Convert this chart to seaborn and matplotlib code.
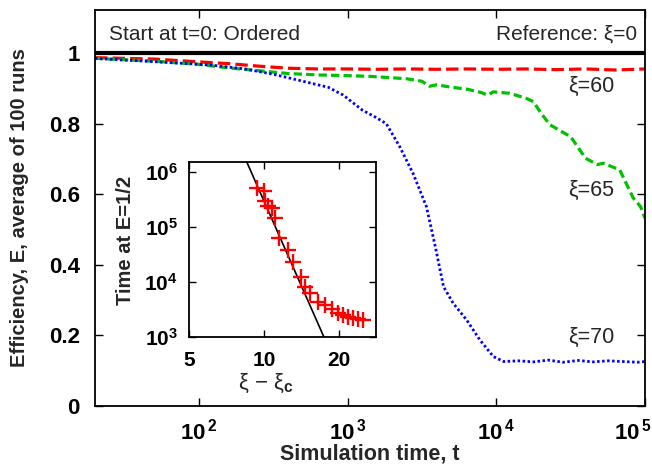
import numpy as np
import pandas as pd
import matplotlib
matplotlib.use("Agg")
import matplotlib.pyplot as plt
import matplotlib.transforms as mtransforms
import seaborn as sns

# Efficiency E(t), averaged over 100 runs, for three values of xi
t_xi60 = [20, 32, 50, 100, 158, 251, 398, 631, 1000, 1585, 2512, 3981,
          6310, 10000, 15849, 25119, 39811, 63096, 100000]
e_xi60 = [0.987, 0.985, 0.983, 0.975, 0.970, 0.963, 0.957, 0.955, 0.955,
          0.954, 0.955, 0.954, 0.955, 0.954, 0.955, 0.953, 0.955, 0.952, 0.955]

t_xi65 = [20, 32, 50, 79, 100, 158, 251, 398, 631, 1000, 1413, 1995, 2512,
          3162, 3548, 3981, 5012, 6310, 7943, 8710, 9550, 12303, 15849,
          17783, 19953, 22909, 28184, 31623, 39811, 47863, 52481, 67608,
          83176, 93325, 100000]
e_xi65 = [0.985, 0.981, 0.977, 0.971, 0.968, 0.958, 0.950, 0.942, 0.938,
          0.936, 0.934, 0.930, 0.927, 0.920, 0.906, 0.910, 0.903, 0.898,
          0.888, 0.881, 0.890, 0.886, 0.872, 0.862, 0.830, 0.797, 0.775,
          0.763, 0.702, 0.684, 0.688, 0.669, 0.590, 0.565, 0.532]

t_xi70 = [20, 32, 44, 63, 93, 126, 204, 316, 447, 631, 741, 933, 1259,
          1514, 1820, 2239, 2754, 3388, 3890, 4416, 5129, 6310, 7762,
          9550, 11220, 14125, 17783, 22387, 28184, 35481, 44668, 56234,
          70795, 89125, 100000]
e_xi70 = [0.985, 0.980, 0.977, 0.973, 0.969, 0.965, 0.955, 0.940, 0.925,
          0.910, 0.903, 0.881, 0.838, 0.820, 0.800, 0.735, 0.659, 0.565,
          0.451, 0.338, 0.291, 0.244, 0.187, 0.140, 0.126, 0.128, 0.125,
          0.130, 0.124, 0.129, 0.125, 0.128, 0.126, 0.124, 0.126]

# Inset: time at which E falls to 1/2 versus distance from critical xi
dxi = [9.35, 9.97, 10.09, 10.40, 10.74, 11.07, 11.52, 12.52, 13.11, 14.04,
       14.61, 15.30, 16.52, 17.57, 18.70, 19.88, 20.81, 21.80, 22.83,
       23.90, 25.04]
t_half = [5.06e5, 4.38e5, 2.88e5, 2.34e5, 2.19e5, 1.44e5, 6.38e4, 3.82e4,
          2.28e4, 1.25e4, 8.2e3, 6.24e3, 4.38e3, 3.82e3, 3.19e3, 2.77e3,
          2.51e3, 2.34e3, 2.19e3, 2.10e3, 2.04e3]

# Power-law fit  T = 10**fit_log_amp * (xi - xi_c)**(-fit_exponent)
fit_log_amp = 15.72
fit_exponent = 10.25
fit_range = [8.0, 18.5]

main_xticks = [1e2, 1e3, 1e4, 1e5]
main_xticklabels = [r"$\mathbf{10^{\,2}}$", r"$\mathbf{10^{\,3}}$",
                    r"$\mathbf{10^{\,4}}$", r"$\mathbf{10^{\,5}}$"]
main_yticks = [0, 0.2, 0.4, 0.6, 0.8, 1.0]
main_yticklabels = ["0", "0.2", "0.4", "0.6", "0.8", "1"]
inset_xticks = [5, 10, 20]
inset_xticklabels = ["5", "10", "20"]
inset_yticks = [1e3, 1e4, 1e5, 1e6]
inset_yticklabels = [r"$\mathbf{10^{3}}$", r"$\mathbf{10^{4}}$",
                     r"$\mathbf{10^{5}}$", r"$\mathbf{10^{6}}$"]

sns.set_theme(style="ticks")
plt.rcParams["font.family"] = ["Liberation Sans", "DejaVu Sans"]
plt.rcParams["mathtext.fontset"] = "custom"
plt.rcParams["mathtext.rm"] = "Liberation Sans"
plt.rcParams["mathtext.it"] = "Liberation Sans:italic"
plt.rcParams["mathtext.bf"] = "Liberation Sans:bold"
plt.rcParams["axes.linewidth"] = 1.3
plt.rcParams["axes.edgecolor"] = "black"

fig = plt.figure(figsize=(6.52, 4.70), dpi=100)
ax = fig.add_axes([95 / 652, 64 / 470, 550 / 652, 396 / 470])

red, green, blue = "#ff0000", "#00c000", "#0000ff"

df60 = pd.DataFrame({"t": t_xi60, "E": e_xi60})
df65 = pd.DataFrame({"t": t_xi65, "E": e_xi65})
df70 = pd.DataFrame({"t": t_xi70, "E": e_xi70})

ax.axhline(1.0, color="black", lw=3, zorder=1)
sns.lineplot(data=df60, x="t", y="E", ax=ax, color=red, lw=2.3,
             linestyle=(0, (3.9, 1.6)), estimator=None, sort=False)
sns.lineplot(data=df65, x="t", y="E", ax=ax, color=green, lw=2.3,
             linestyle=(0, (2.6, 1.3)), estimator=None, sort=False)
sns.lineplot(data=df70, x="t", y="E", ax=ax, color=blue, lw=2.0,
             linestyle=(0, (0.9, 0.9)), estimator=None, sort=False)

ax.set_xscale("log")
ax.set_xlim(20, 1e5)
ax.set_ylim(0, 1.122)
ax.set_xticks(main_xticks)
ax.set_xticklabels(main_xticklabels)
ax.xaxis.set_minor_locator(matplotlib.ticker.NullLocator())
ax.set_yticks(main_yticks)
ax.set_yticklabels(main_yticklabels)
ax.tick_params(axis="both", direction="in", length=6, width=1.0,
               top=True, right=True, colors="black")
ax.tick_params(axis="x", pad=9, labelsize=16)
ax.tick_params(axis="y", pad=11, labelsize=16)
for lab in ax.get_yticklabels():
    lab.set_fontweight("bold")
# keep the last decade label inside the figure
last = ax.get_xticklabels()[-1]
last.set_transform(last.get_transform() +
                   mtransforms.ScaledTranslation(-12 / 100, 0,
                                                 fig.dpi_scale_trans))

ax.set_xlabel("Simulation time, t", fontsize=15.5, fontweight="bold")
ax.set_ylabel("Efficiency, E, average of 100 runs", fontsize=14.5,
              fontweight="bold")
ax.xaxis.set_label_coords(0.5, -0.095)
ax.yaxis.set_label_coords(-0.12, 0.5)

ax.text(0.025, 0.939, "Start at t=0: Ordered", transform=ax.transAxes,
        fontsize=15, ha="left", va="center")
ax.text(0.985, 0.939, "Reference: ξ=0", transform=ax.transAxes,
        fontsize=15, ha="right", va="center")
ax.text(0.902, 0.808, "ξ=60", transform=ax.transAxes, fontsize=15.5,
        ha="center", va="center")
ax.text(0.902, 0.545, "ξ=65", transform=ax.transAxes, fontsize=15.5,
        ha="center", va="center")
ax.text(0.902, 0.172, "ξ=70", transform=ax.transAxes, fontsize=15.5,
        ha="center", va="center")

# Inset
axi = fig.add_axes([189 / 652, 133 / 470, 187 / 652, 175 / 470])
fit_x = np.linspace(fit_range[0], fit_range[1], 50)
fit_y = 10 ** fit_log_amp * fit_x ** (-fit_exponent)
dfit = pd.DataFrame({"x": fit_x, "y": fit_y})
sns.lineplot(data=dfit, x="x", y="y", ax=axi, color="black", lw=1.2,
             estimator=None, sort=False)
dins = pd.DataFrame({"dxi": dxi, "T": t_half})
sns.scatterplot(data=dins, x="dxi", y="T", ax=axi, marker="+", s=120,
                color=red, linewidth=1.7, zorder=3)
axi.set_xscale("log")
axi.set_yscale("log")
axi.set_xlim(5, 28.2)
axi.set_ylim(1e3, 1.5e6)
axi.set_xticks(inset_xticks)
axi.set_xticklabels(inset_xticklabels)
axi.set_yticks(inset_yticks)
axi.set_yticklabels(inset_yticklabels)
axi.xaxis.set_minor_locator(matplotlib.ticker.NullLocator())
axi.yaxis.set_minor_locator(matplotlib.ticker.NullLocator())
axi.tick_params(axis="both", direction="in", length=5, width=1.0,
                top=True, right=True, labelsize=15, colors="black")
axi.tick_params(axis="x", pad=10)
axi.tick_params(axis="y", pad=8)
for lab in axi.get_xticklabels():
    lab.set_fontweight("bold")
axi.set_xlabel(r"ξ − ξ$_{\mathbf{c}}$", fontsize=16)
axi.set_ylabel("Time at E=1/2", fontsize=14.5, fontweight="bold")
axi.xaxis.set_label_coords(0.41, -0.2)
axi.yaxis.set_label_coords(-0.29, 0.55)

fig.savefig("out.png", dpi=100)
